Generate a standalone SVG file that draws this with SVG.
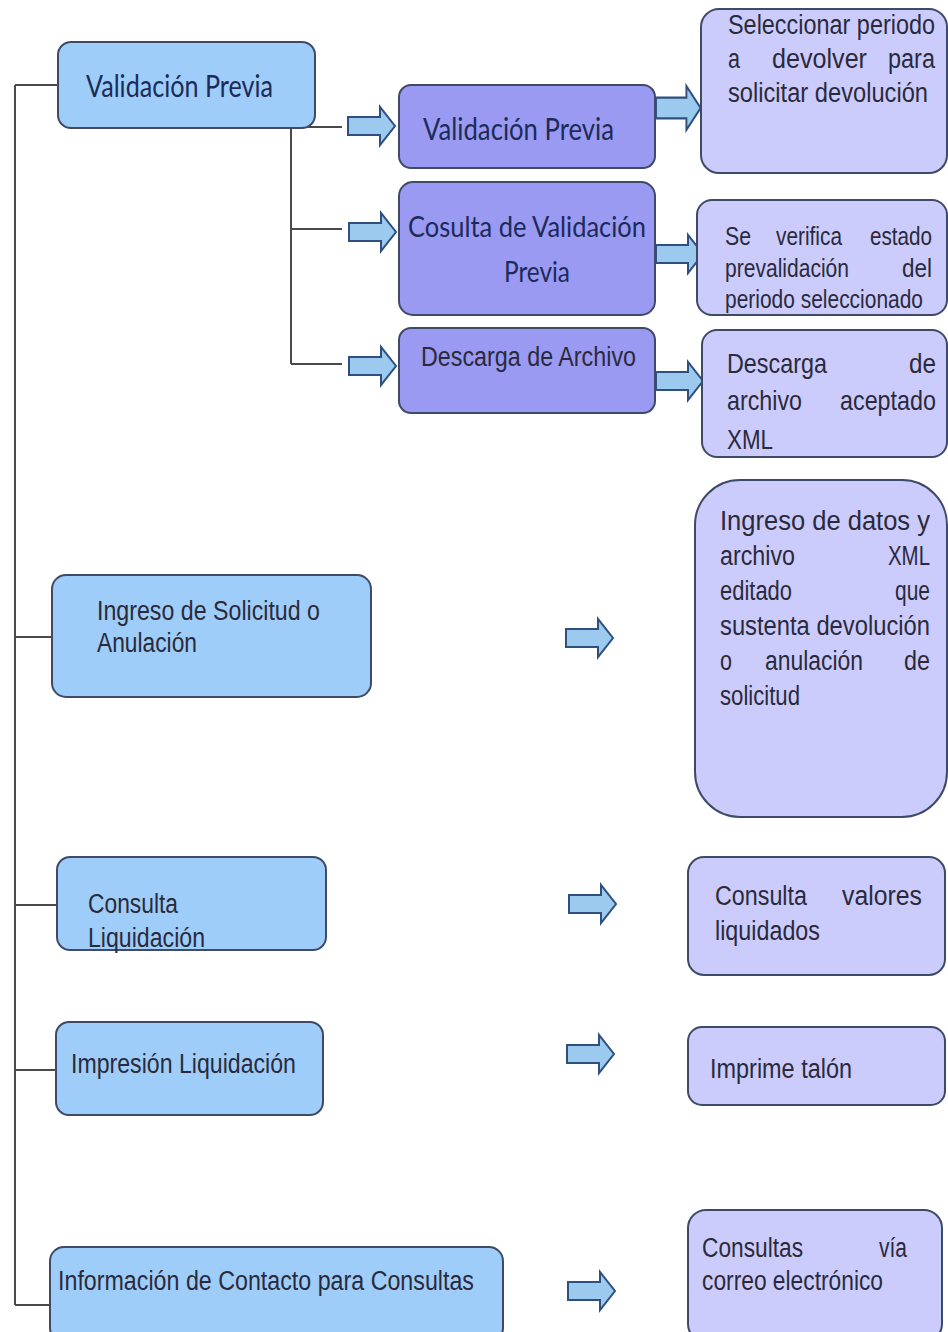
<svg xmlns="http://www.w3.org/2000/svg" width="948" height="1332" viewBox="0 0 948 1332">
<style>
.bl{fill:#9fcdf9;stroke:#3e4a66;stroke-width:2}
.pu{fill:#9a9af3;stroke:#3e4a66;stroke-width:2}
.lv{fill:#ccccfc;stroke:#3e4a66;stroke-width:2}
.ln{fill:none;stroke:#4a4a4a;stroke-width:2}
.arr{fill:#9cc9ee;stroke:#2f4f7f;stroke-width:2;stroke-linejoin:miter}
.c{font-family:Lato,"Liberation Sans",sans-serif;fill:#1c2b58}
.n{font-family:"Liberation Sans Narrow","Liberation Sans",sans-serif;fill:#2a2a3c}
</style>
<defs>
<path id="ar" d="M0,-9 L32,-9 L32,-19 L47,0 L32,19 L32,9 L0,9 Z"/>
</defs>
<rect width="948" height="1332" fill="#ffffff"/>

<g id="connectors">
<path class="ln" d="M15,85 L15,1305"/>
<path class="ln" d="M15,85 L58,85"/>
<path class="ln" d="M15,637 L52,637"/>
<path class="ln" d="M15,905 L57,905"/>
<path class="ln" d="M15,1070 L56,1070"/>
<path class="ln" d="M15,1305 L50,1305"/>
<path class="ln" d="M291,127 L291,364"/>
<path class="ln" d="M291,127 L342,127"/>
<path class="ln" d="M291,229 L342,229"/>
<path class="ln" d="M291,364 L342,364"/>
<use href="#ar" class="arr" transform="translate(348,126)"/>
<use href="#ar" class="arr" transform="translate(349,232)"/>
<use href="#ar" class="arr" transform="translate(349,366)"/>
<use href="#ar" class="arr" transform="translate(656,108) scale(0.95,1.15)"/>
<use href="#ar" class="arr" transform="translate(656,254)"/>
<use href="#ar" class="arr" transform="translate(656,381)"/>
<use href="#ar" class="arr" transform="translate(566,638)"/>
<use href="#ar" class="arr" transform="translate(569,904)"/>
<use href="#ar" class="arr" transform="translate(567,1054)"/>
<use href="#ar" class="arr" transform="translate(568,1291)"/>
</g>

<g id="n-validacion">
<rect class="bl" x="58" y="42" width="257" height="86" rx="13"/>
<text class="c" x="86" y="97" font-size="30" textLength="187" lengthAdjust="spacingAndGlyphs">Validación Previa</text>
</g>

<g id="n-validacion2">
<rect class="pu" x="399" y="85" width="256" height="83" rx="12"/>
<text class="c" x="423" y="140" font-size="30" textLength="191" lengthAdjust="spacingAndGlyphs">Validación Previa</text>
</g>

<g id="n-cosulta">
<rect class="pu" x="399" y="182" width="256" height="133" rx="14"/>
<text class="c" x="408" y="237" font-size="29" textLength="238" lengthAdjust="spacingAndGlyphs">Cosulta de Validación</text>
<text class="c" x="504" y="282" font-size="29" textLength="66" lengthAdjust="spacingAndGlyphs">Previa</text>
</g>

<g id="n-descarga">
<rect class="pu" x="399" y="328" width="256" height="85" rx="12"/>
<text class="n" x="421" y="366" font-size="27" textLength="215" lengthAdjust="spacingAndGlyphs">Descarga de Archivo</text>
</g>

<g id="n-seleccionar">
<rect class="lv" x="701" y="9" width="246" height="164" rx="18"/>
<text class="n" x="728" y="34" font-size="27" textLength="207" lengthAdjust="spacingAndGlyphs">Seleccionar periodo</text>
<text class="n" x="728" y="68" font-size="27" textLength="12" lengthAdjust="spacingAndGlyphs">a</text>
<text class="n" x="772" y="68" font-size="27" textLength="95" lengthAdjust="spacingAndGlyphs">devolver</text>
<text class="n" x="888" y="68" font-size="27" textLength="47" lengthAdjust="spacingAndGlyphs">para</text>
<text class="n" x="728" y="102" font-size="27" textLength="200" lengthAdjust="spacingAndGlyphs">solicitar devolución</text>
</g>

<g id="n-verifica">
<rect class="lv" x="697" y="200" width="250" height="115" rx="15"/>
<text class="n" x="725" y="245" font-size="25" textLength="26" lengthAdjust="spacingAndGlyphs">Se</text>
<text class="n" x="776" y="245" font-size="25" textLength="66" lengthAdjust="spacingAndGlyphs">verifica</text>
<text class="n" x="870" y="245" font-size="25" textLength="62" lengthAdjust="spacingAndGlyphs">estado</text>
<text class="n" x="725" y="277" font-size="25" textLength="124" lengthAdjust="spacingAndGlyphs">prevalidación</text>
<text class="n" x="902" y="277" font-size="25" textLength="30" lengthAdjust="spacingAndGlyphs">del</text>
<text class="n" x="725" y="308" font-size="25" textLength="198" lengthAdjust="spacingAndGlyphs">periodo seleccionado</text>
</g>

<g id="n-descarga-xml">
<rect class="lv" x="702" y="330" width="245" height="127" rx="15"/>
<text class="n" x="727" y="373" font-size="28" textLength="100" lengthAdjust="spacingAndGlyphs">Descarga</text>
<text class="n" x="909" y="373" font-size="28" textLength="27" lengthAdjust="spacingAndGlyphs">de</text>
<text class="n" x="727" y="410" font-size="28" textLength="75" lengthAdjust="spacingAndGlyphs">archivo</text>
<text class="n" x="840" y="410" font-size="28" textLength="96" lengthAdjust="spacingAndGlyphs">aceptado</text>
<text class="n" x="727" y="449" font-size="28" textLength="46" lengthAdjust="spacingAndGlyphs">XML</text>
</g>

<g id="n-ingreso">
<rect class="bl" x="52" y="575" width="319" height="122" rx="14"/>
<text class="n" x="97" y="620" font-size="27" textLength="223" lengthAdjust="spacingAndGlyphs">Ingreso de Solicitud o</text>
<text class="n" x="97" y="652" font-size="27" textLength="100" lengthAdjust="spacingAndGlyphs">Anulación</text>
</g>

<g id="n-ingreso-datos">
<rect class="lv" x="695" y="480" width="252" height="337" rx="45"/>
<text class="n" x="720" y="530" font-size="27" textLength="210" lengthAdjust="spacingAndGlyphs">Ingreso de datos y</text>
<text class="n" x="720" y="565" font-size="27" textLength="75" lengthAdjust="spacingAndGlyphs">archivo</text>
<text class="n" x="888" y="565" font-size="27" textLength="42" lengthAdjust="spacingAndGlyphs">XML</text>
<text class="n" x="720" y="600" font-size="27" textLength="72" lengthAdjust="spacingAndGlyphs">editado</text>
<text class="n" x="895" y="600" font-size="27" textLength="35" lengthAdjust="spacingAndGlyphs">que</text>
<text class="n" x="720" y="635" font-size="27" textLength="210" lengthAdjust="spacingAndGlyphs">sustenta devolución</text>
<text class="n" x="720" y="670" font-size="27" textLength="12" lengthAdjust="spacingAndGlyphs">o</text>
<text class="n" x="765" y="670" font-size="27" textLength="98" lengthAdjust="spacingAndGlyphs">anulación</text>
<text class="n" x="904" y="670" font-size="27" textLength="26" lengthAdjust="spacingAndGlyphs">de</text>
<text class="n" x="720" y="705" font-size="27" textLength="80" lengthAdjust="spacingAndGlyphs">solicitud</text>
</g>

<g id="n-consulta-liq">
<rect class="bl" x="57" y="857" width="269" height="93" rx="13"/>
<text class="n" x="88" y="913" font-size="27" textLength="90" lengthAdjust="spacingAndGlyphs">Consulta</text>
<text class="n" x="88" y="947" font-size="27" textLength="117" lengthAdjust="spacingAndGlyphs">Liquidación</text>
</g>

<g id="n-valores">
<rect class="lv" x="688" y="857" width="257" height="118" rx="16"/>
<text class="n" x="715" y="905" font-size="27" textLength="92" lengthAdjust="spacingAndGlyphs">Consulta</text>
<text class="n" x="842" y="905" font-size="27" textLength="80" lengthAdjust="spacingAndGlyphs">valores</text>
<text class="n" x="715" y="940" font-size="27" textLength="105" lengthAdjust="spacingAndGlyphs">liquidados</text>
</g>

<g id="n-impresion">
<rect class="bl" x="56" y="1022" width="267" height="93" rx="13"/>
<text class="n" x="71" y="1073" font-size="27" textLength="225" lengthAdjust="spacingAndGlyphs">Impresión Liquidación</text>
</g>

<g id="n-imprime">
<rect class="lv" x="688" y="1027" width="257" height="78" rx="14"/>
<text class="n" x="710" y="1078" font-size="27" textLength="142" lengthAdjust="spacingAndGlyphs">Imprime talón</text>
</g>

<g id="n-informacion">
<rect class="bl" x="50" y="1247" width="453" height="95" rx="14"/>
<text class="n" x="58" y="1290" font-size="27" textLength="416" lengthAdjust="spacingAndGlyphs">Información de Contacto para Consultas</text>
</g>

<g id="n-correo">
<rect class="lv" x="688" y="1210" width="254" height="132" rx="18"/>
<text class="n" x="702" y="1257" font-size="27" textLength="101" lengthAdjust="spacingAndGlyphs">Consultas</text>
<text class="n" x="879" y="1257" font-size="27" textLength="28" lengthAdjust="spacingAndGlyphs">vía</text>
<text class="n" x="702" y="1290" font-size="27" textLength="181" lengthAdjust="spacingAndGlyphs">correo electrónico</text>
</g>
</svg>
